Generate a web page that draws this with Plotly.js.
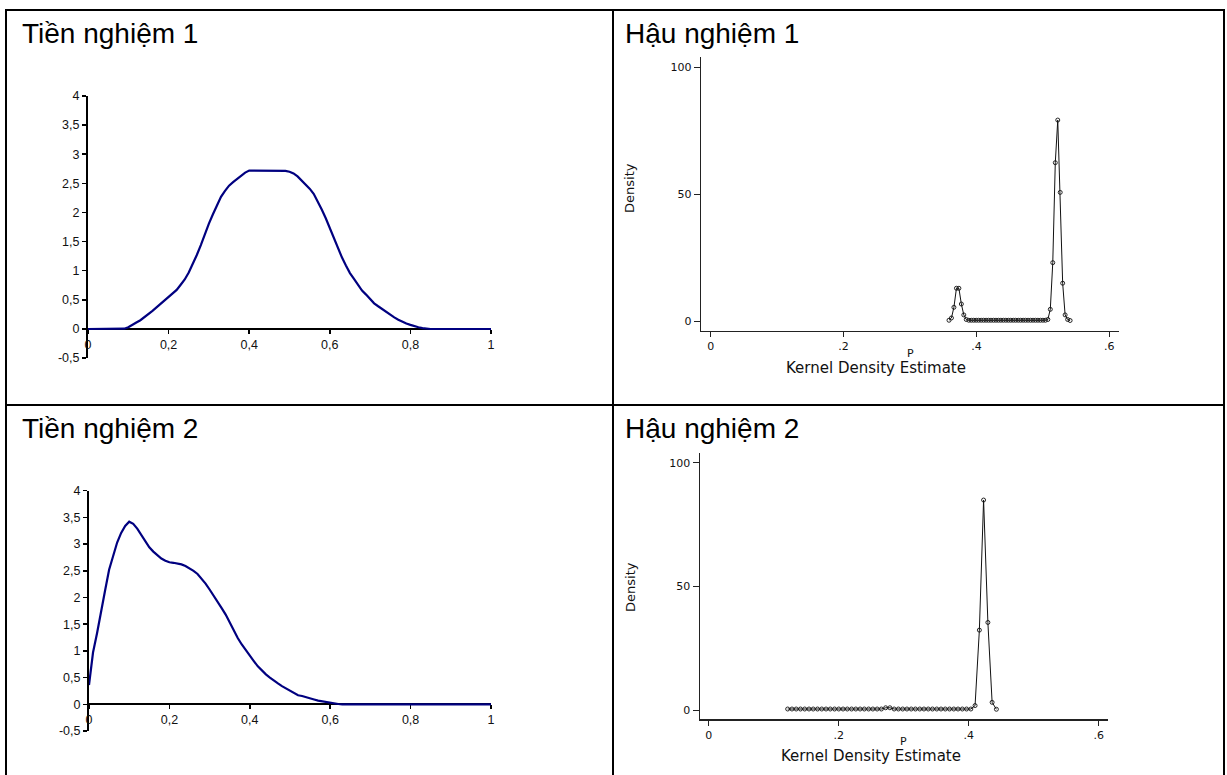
<!DOCTYPE html>
<html>
<head>
<meta charset="utf-8">
<script src="https://cdn.plot.ly/plotly-3.0.1.min.js"></script>
<style>
  html, body { margin: 0; padding: 0; background: #ffffff; }
  #chart { width: 1227px; height: 775px; }
</style>
</head>
<body>
<div id="chart"></div>
<script>
// ---------- DATA ----------
// Panel titles
const panelTitles = ['Tiền nghiệm 1', 'Hậu nghiệm 1', 'Tiền nghiệm 2', 'Hậu nghiệm 2'];

// Prior grid (x values, step 0.01)
const priorX = [0,0.01,0.02,0.03,0.04,0.05,0.06,0.07,0.08,0.09,
  0.10,0.11,0.12,0.13,0.14,0.15,0.16,0.17,0.18,0.19,
  0.20,0.21,0.22,0.23,0.24,0.25,0.26,0.27,0.28,0.29,
  0.30,0.31,0.32,0.33,0.34,0.35,0.36,0.37,0.38,0.39,
  0.40,0.41,0.42,0.43,0.44,0.45,0.46,0.47,0.48,0.49,
  0.50,0.51,0.52,0.53,0.54,0.55,0.56,0.57,0.58,0.59,
  0.60,0.61,0.62,0.63,0.64,0.65,0.66,0.67,0.68,0.69,
  0.70,0.71,0.72,0.73,0.74,0.75,0.76,0.77,0.78,0.79,
  0.80,0.81,0.82,0.83,0.84,0.85,0.86,0.87,0.88,0.89,
  0.90,0.91,0.92,0.93,0.94,0.95,0.96,0.97,0.98,0.99,1.00];

// Tiền nghiệm 1 density
const prior1Y = [0,0,0,0,0,0,0,0,0,0.005,
  0.03,0.065,0.11,0.15,0.20,0.25,0.31,0.37,0.43,0.49,
  0.55,0.61,0.67,0.76,0.85,0.97,1.11,1.27,1.44,1.63,
  1.81,1.97,2.13,2.27,2.37,2.46,2.52,2.58,2.635,2.685,
  2.72,2.72,2.72,2.72,2.72,2.72,2.72,2.72,2.72,2.715,
  2.70,2.67,2.62,2.55,2.49,2.41,2.32,2.19,2.05,1.90,
  1.73,1.56,1.39,1.23,1.09,0.96,0.86,0.76,0.66,0.59,
  0.51,0.44,0.39,0.34,0.29,0.24,0.20,0.16,0.125,0.095,
  0.07,0.045,0.03,0.015,0.005,0,0,0,0,0,
  0,0,0,0,0,0,0,0,0,0,0];

// Tiền nghiệm 2 density
const prior2Y = [0.36,0.97,1.33,1.70,2.13,2.52,2.80,3.03,3.21,3.34,
  3.42,3.38,3.29,3.17,3.05,2.94,2.86,2.79,2.73,2.69,
  2.66,2.65,2.64,2.62,2.59,2.55,2.50,2.44,2.36,2.26,
  2.15,2.04,1.93,1.80,1.68,1.53,1.38,1.24,1.12,1.01,
  0.91,0.81,0.71,0.63,0.56,0.50,0.44,0.39,0.34,0.30,
  0.25,0.21,0.17,0.155,0.13,0.11,0.09,0.07,0.055,0.04,
  0.03,0.015,0.005,0,0,0,0,0,0,0,
  0,0,0,0,0,0,0,0,0,0,
  0,0,0,0,0,0,0,0,0,0,
  0,0,0,0,0,0,0,0,0,0,0];

// Hậu nghiệm 1 kernel density (50 points)
const post1X = [0.3587,0.3624,0.3661,0.3699,0.3736,0.3773,0.3810,0.3847,0.3885,0.3922,
  0.3959,0.3996,0.4033,0.4071,0.4108,0.4145,0.4182,0.4219,0.4257,0.4294,
  0.4331,0.4368,0.4405,0.4443,0.4480,0.4517,0.4554,0.4591,0.4629,0.4666,
  0.4703,0.4740,0.4777,0.4815,0.4852,0.4889,0.4926,0.4963,0.5001,0.5038,
  0.5075,0.5112,0.5149,0.5187,0.5224,0.5261,0.5298,0.5335,0.5373,0.5410];
const post1Y = [0.3,1.2,5.4,12.9,12.9,6.7,2.4,0.6,0.3,0.3,
  0.3,0.3,0.3,0.3,0.3,0.3,0.3,0.3,0.3,0.3,
  0.3,0.3,0.3,0.3,0.3,0.3,0.3,0.3,0.3,0.3,
  0.3,0.3,0.3,0.3,0.3,0.3,0.3,0.3,0.3,0.3,
  0.6,4.6,23,62.4,79.2,50.7,14.9,2.4,0.6,0.2];

// Hậu nghiệm 2 kernel density (50 points)
const post2X = [0.1215,0.1281,0.1346,0.1412,0.1477,0.1543,0.1608,0.1674,0.1739,0.1805,
  0.1870,0.1936,0.2001,0.2067,0.2132,0.2198,0.2263,0.2329,0.2394,0.2460,
  0.2525,0.2591,0.2656,0.2722,0.2787,0.2853,0.2918,0.2984,0.3049,0.3115,
  0.3180,0.3246,0.3311,0.3377,0.3442,0.3508,0.3573,0.3639,0.3704,0.3770,
  0.3835,0.3901,0.3966,0.4032,0.4097,0.4163,0.4228,0.4294,0.4359,0.4425];
const post2Y = [0.4,0.4,0.4,0.4,0.4,0.4,0.4,0.4,0.4,0.4,
  0.4,0.4,0.4,0.4,0.4,0.4,0.4,0.4,0.4,0.4,
  0.4,0.4,0.4,0.9,0.9,0.4,0.4,0.4,0.4,0.4,
  0.4,0.4,0.4,0.4,0.4,0.4,0.4,0.4,0.4,0.4,
  0.4,0.4,0.4,0.4,1.8,32.3,84.9,35.4,3.1,0.3];

// Tick labels
const priorXTicks = [0,0.2,0.4,0.6,0.8,1];
const priorXText = ['0','0,2','0,4','0,6','0,8','1'];
const priorYTicks = [-0.5,0,0.5,1,1.5,2,2.5,3,3.5,4];
const priorYText = ['-0,5','0','0,5','1','1,5','2','2,5','3','3,5','4'];
const postXTicks = [0,0.2,0.4,0.6];
const postXText = ['0','.2','.4','.6'];
const postYTicks = [0,50,100];
const postYText = ['0','50','100'];

// ---------- LAYOUT HELPERS ----------
const W = 1227, H = 775;
const px = v => v / W;
const py = v => 1 - v / H;

const excelFont = {family: 'Liberation Sans, Arial, sans-serif', size: 12.5, color: '#111'};
const stataFont = {family: 'DejaVu Sans, sans-serif', size: 11, color: '#111'};

function excelX(domain, pos) {
  return {domain: domain, range: [0, 1], anchor: 'free', position: pos,
    showline: true, linecolor: '#000', linewidth: 2, layer: 'below traces',
    ticks: 'outside', ticklen: 4, tickwidth: 1.5, tickcolor: '#000',
    tickvals: priorXTicks, ticktext: priorXText, tickfont: excelFont,
    showgrid: false, zeroline: false, fixedrange: true};
}
function excelY(domain, anchor) {
  return {domain: domain, range: [-0.5, 4], anchor: anchor,
    showline: true, linecolor: '#000', linewidth: 2, layer: 'below traces',
    ticks: 'outside', ticklen: 4, tickwidth: 1.5, tickcolor: '#000',
    tickvals: priorYTicks, ticktext: priorYText, tickfont: excelFont,
    showgrid: false, zeroline: false, fixedrange: true};
}
function stataX(domain, range, anchor) {
  return {domain: domain, range: range, anchor: anchor,
    showline: true, linecolor: '#222', linewidth: 1.2,
    ticks: 'outside', ticklen: 5, tickwidth: 1, tickcolor: '#222',
    tickvals: postXTicks, ticktext: postXText, tickfont: stataFont,
    showgrid: false, zeroline: false, fixedrange: true};
}
function stataY(domain, range, anchor) {
  return {domain: domain, range: range, anchor: anchor,
    showline: true, linecolor: '#222', linewidth: 1.2,
    ticks: 'outside', ticklen: 6, tickwidth: 1, tickcolor: '#222',
    tickvals: postYTicks, ticktext: postYText, tickfont: stataFont,
    showgrid: false, zeroline: false, fixedrange: true};
}

const priorLine = {color: '#000080', width: 2.2};
const postLine = {color: '#111', width: 1};
const postMarker = {symbol: 'circle-open', size: 4, color: '#111', line: {width: 0.9, color: '#111'}};

const traces = [
  {x: priorX, y: prior1Y, xaxis: 'x', yaxis: 'y', type: 'scatter', mode: 'lines', line: priorLine, hoverinfo: 'x+y'},
  {x: priorX, y: prior2Y, xaxis: 'x2', yaxis: 'y2', type: 'scatter', mode: 'lines', line: priorLine, hoverinfo: 'x+y'},
  {x: post1X, y: post1Y, xaxis: 'x3', yaxis: 'y3', type: 'scatter', mode: 'lines+markers', line: postLine, marker: postMarker, hoverinfo: 'x+y'},
  {x: post2X, y: post2Y, xaxis: 'x4', yaxis: 'y4', type: 'scatter', mode: 'lines+markers', line: postLine, marker: postMarker, hoverinfo: 'x+y'}
];

const titleFont = {family: 'Liberation Sans, Arial, sans-serif', size: 28, color: '#000'};
const stataTitleFont = {family: 'DejaVu Sans, sans-serif', size: 15, color: '#111'};
const stataSmall = {family: 'DejaVu Sans, sans-serif', size: 11, color: '#111'};
const stataDensity = {family: 'DejaVu Sans, sans-serif', size: 13, color: '#111'};

function ann(text, x, y, font, extra) {
  return Object.assign({text: text, x: px(x), y: py(y), xref: 'paper', yref: 'paper',
    showarrow: false, font: font, xanchor: 'center', yanchor: 'middle'}, extra || {});
}

const annotations = [
  ann(panelTitles[0], 20, 33, titleFont, {xanchor: 'left'}),
  ann(panelTitles[1], 623, 33, titleFont, {xanchor: 'left'}),
  ann(panelTitles[2], 20, 428, titleFont, {xanchor: 'left'}),
  ann(panelTitles[3], 623, 428, titleFont, {xanchor: 'left'}),
  ann('Density', 630, 188, stataDensity, {textangle: -90}),
  ann('Density', 630, 587, stataDensity, {textangle: -90}),
  ann('P', 910, 353, stataSmall),
  ann('P', 904, 741, stataSmall),
  ann('Kernel Density Estimate', 876, 368, stataTitleFont),
  ann('Kernel Density Estimate', 871, 756, stataTitleFont)
];

function line(x0, y0, x1, y1) {
  return {type: 'line', xref: 'paper', yref: 'paper', x0: px(x0), y0: py(y0), x1: px(x1), y1: py(y1),
    line: {color: '#000', width: 2}, layer: 'above'};
}
const shapes = [
  line(6, 10, 1224, 10),
  line(6, 9, 6, 775),
  line(1224, 9, 1224, 775),
  line(613, 10, 613, 775),
  line(6, 405, 1224, 405)
];

const layout = {
  width: W, height: H,
  margin: {l: 0, r: 0, t: 0, b: 0, pad: 0},
  paper_bgcolor: '#ffffff', plot_bgcolor: 'rgba(0,0,0,0)',
  showlegend: false,
  xaxis: excelX([px(88), px(491)], py(329)),
  yaxis: excelY([py(358.1), py(96)], 'x'),
  xaxis2: excelX([px(89), px(491)], py(704.3)),
  yaxis2: excelY([py(731), py(490.7)], 'x2'),
  xaxis3: stataX([px(701), px(1119)], [-0.0146, 0.6146], 'y3'),
  yaxis3: stataY([py(330.7), py(57)], [-3.82, 104.06], 'x3'),
  xaxis4: stataX([px(699.7), px(1108.3)], [-0.0138, 0.6146], 'y4'),
  yaxis4: stataY([py(719.3), py(453.3)], [-3.76, 103.8], 'x4'),
  annotations: annotations,
  shapes: shapes
};

Plotly.newPlot('chart', traces, layout, {displayModeBar: false, staticPlot: true});
</script>
</body>
</html>
